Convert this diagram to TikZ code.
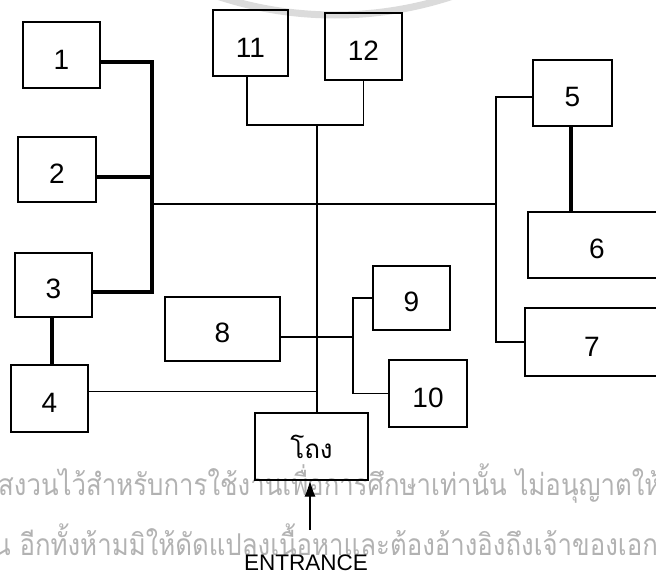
\documentclass[tikz,border=0pt]{standalone}
\usepackage{fontspec}
\setmainfont{Liberation Sans}
\newfontfamily\thaifont[Script=Thai]{Loma}
\newfontfamily\markfont[Script=Thai,FakeStretch=0.86]{Loma}
\usetikzlibrary{arrows.meta}

\begin{document}
\begin{tikzpicture}[x=1pt,y=-1pt,
    room/.style={draw,line width=1.2pt,inner sep=0pt,text height=28pt,font=\fontsize{28}{28}\selectfont},
    link/.style={line width=1.2pt},
    heavy/.style={line width=4pt},
    wmark/.style={anchor=base west,inner sep=0pt,text=black!30,font=\markfont\fontsize{30}{30}\selectfont}]
  \useasboundingbox (0,0) rectangle (656,573);
  \draw[black!14,line width=7pt] (335,-360) circle (375);
  \node[wmark] (mark1) at (-2,495) {สงวนไว้สำหรับการใช้งานเพื่อการศึกษาเท่านั้น ไม่อนุญาตให้};
  \node[wmark] (mark2) at (-7,555) {น อีกทั้งห้ามมิให้ดัดแปลงเนื้อหาและต้องอ้างอิงถึงเจ้าของเอกสาร};
  \node[room,minimum width=77pt,minimum height=66pt] (r1) at (61.5,55) {1};
  \node[room,minimum width=78pt,minimum height=65pt] (r2) at (57,169.5) {2};
  \node[room,minimum width=77pt,minimum height=64pt] (r3) at (53.5,285) {3};
  \node[room,minimum width=77pt,minimum height=67pt] (r4) at (49.5,398.5) {4};
  \node[room,minimum width=79pt,minimum height=66pt] (r5) at (572.5,93) {5};
  \node[room,minimum width=138pt,minimum height=66pt] (r6) at (597,245) {6};
  \node[room,minimum width=134pt,minimum height=68pt] (r7) at (592,342) {7};
  \node[room,minimum width=115pt,minimum height=64pt] (r8) at (222.5,329) {8};
  \node[room,minimum width=77pt,minimum height=64pt] (r9) at (411.5,298) {9};
  \node[room,minimum width=78pt,minimum height=67pt] (r10) at (428,393.5) {10};
  \node[room,minimum width=75pt,minimum height=66pt] (r11) at (250.5,43) {11};
  \node[room,minimum width=77pt,minimum height=67pt] (r12) at (363.5,46.5) {12};
  \node[room,minimum width=113pt,minimum height=67pt,text height=,font=\thaifont\fontsize{26}{26}\selectfont] (hall) at (311.5,446.5) {โถง};
  \node[inner sep=0pt,font=\fontsize{22.5}{22.5}\selectfont] (entr) at (306,563) {ENTRANCE};
  \coordinate (lbus) at (152,204);
  \coordinate (rbus) at (496,204);
  \coordinate (top) at (317,125);
  \coordinate (fork) at (353,337);
  \coordinate (j1) at ([yshift=-7pt]r1.east);
  \coordinate (j2) at ([yshift=-7pt]r2.east);
  \coordinate (j3) at ([yshift=-7pt]r3.east);
  \coordinate (j4) at ([yshift=7pt]r4.east);
  \coordinate (j5) at ([yshift=-4pt]r5.west);
  \draw[heavy] (j1) -| (lbus |- j3) -- (j3);
  \draw[heavy] (j2) -- (lbus |- j2);
  \draw[heavy] (r3.south -| 52,0) -- (r4.north -| 52,0);
  \draw[heavy] (r5.south -| 571,0) -- (r6.north -| 571,0);
  \draw[link] (lbus) -- (rbus);
  \draw[link] (r11.south -| 247,0) |- (r12.south |- top) -- (r12.south);
  \draw[link] (top) -- (hall.north -| top);
  \draw[link] (j5) -| (r7.west -| rbus) -- (r7.west);
  \draw[link] (r8.east |- fork) -- (fork);
  \draw[link] (r9.west) -| (fork) |- (r10.west);
  \draw[link] (j4) -- (j4 -| top);
  \draw[-{Latex[length=16pt,width=11pt]},link] (310,530) coordinate (tail) -- (hall.south -| tail);
\end{tikzpicture}
\end{document}
